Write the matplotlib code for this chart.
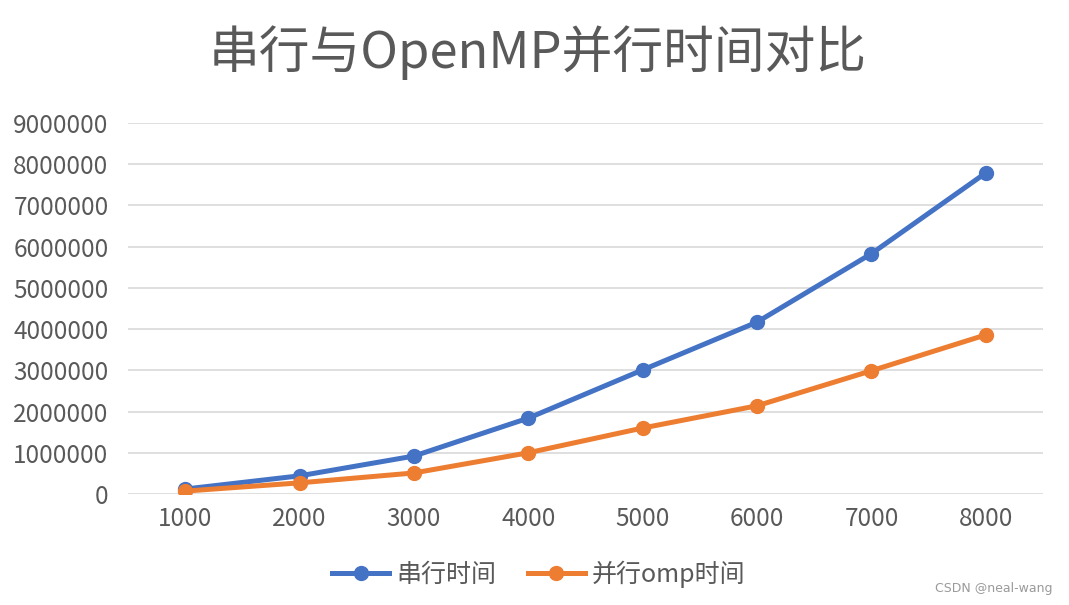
import matplotlib
matplotlib.use("Agg")
import matplotlib.pyplot as plt

plt.rcParams['font.family'] = ['Noto Sans CJK SC', 'DejaVu Sans']

sizes = ["1000", "2000", "3000", "4000", "5000", "6000", "7000", "8000"]
serial = [120000, 440000, 920000, 1840000, 3010000, 4170000, 5830000, 7790000]
parallel = [70000, 270000, 510000, 1000000, 1600000, 2140000, 2990000, 3860000]
yticks = [0, 1000000, 2000000, 3000000, 4000000, 5000000, 6000000, 7000000, 8000000, 9000000]

BLUE = "#4472C4"
ORANGE = "#ED7D31"
TEXT = "#595959"

fig = plt.figure(figsize=(10.69, 6.05), dpi=100)
ax = fig.add_axes([0.1197, 0.1835, 0.8560, 0.6132])

x = range(1, len(sizes) + 1)
ax.plot(x, serial, color=BLUE, lw=3.6, marker="o", ms=10, label="串行时间", zorder=3)
ax.plot(x, parallel, color=ORANGE, lw=3.6, marker="o", ms=10, label="并行omp时间", zorder=3)

ax.set_xlim(0.5, len(sizes) + 0.5)
ax.set_ylim(0, 9000000)
ax.set_xticks(list(x))
ax.set_xticklabels(sizes)
ax.set_yticks(yticks)
ax.set_yticklabels([str(v) for v in yticks])
ax.tick_params(length=0, labelsize=17.5, colors=TEXT)
ax.tick_params(axis="y", pad=14)
ax.tick_params(axis="x", pad=9)
ax.grid(axis="y", color="#D9D9D9", lw=1.2)
ax.set_axisbelow(True)
for s in ax.spines.values():
    s.set_visible(False)

fig.text(0.503, 0.913, "串行与OpenMP并行时间对比", ha="center", va="center",
         fontsize=36.5, color=TEXT)

fig.legend(loc="center", bbox_to_anchor=(0.504, 0.051), ncol=2, frameon=False,
           fontsize=18, labelcolor=TEXT, handlelength=2.3, columnspacing=1.25,
           handletextpad=0.28)

fig.text(0.985, 0.028, "CSDN @neal-wang", ha="right", va="center",
         fontsize=9, color="#9a9a9a", family=["DejaVu Sans"])

fig.savefig("out.png", dpi=100)
